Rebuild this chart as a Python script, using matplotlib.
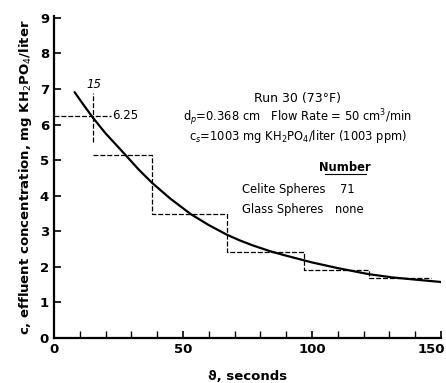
import numpy as np
import matplotlib
matplotlib.use("Agg")
import matplotlib.pyplot as plt
import matplotlib.transforms as mtransforms

# step (measured) values, dashed histogram
step_edges = [15, 38, 67, 97, 122, 146]
step_vals = [5.15, 3.47, 2.42, 1.92, 1.68]

# smooth fitted curve
curve_t = [8, 11, 15, 20, 27, 33, 38, 45, 53, 60, 67, 72, 77, 84, 90, 100, 110, 122, 131, 141, 150]
curve_c = [6.91, 6.6, 6.2, 5.75, 5.2, 4.72, 4.36, 3.92, 3.48, 3.17, 2.9, 2.74, 2.6, 2.43, 2.31,
           2.12, 1.96, 1.79, 1.7, 1.63, 1.57]

first_t, first_c = 15, 6.25

plt.rcParams['font.family'] = ['DejaVu Sans']
fig = plt.figure(figsize=(4.46, 3.83), dpi=100)
ax = fig.add_axes([0.121, 0.118, 0.868, 0.84])

ax.plot(curve_t, curve_c, color='black', lw=1.6, solid_capstyle='round')
# dashed steps
dash = (0, (4, 1.5))
ax.step(step_edges, step_vals + [step_vals[-1]], where='post', color='black', lw=0.9, ls=dash)
ax.plot([0, 22], [first_c, first_c], color='black', lw=0.9, ls=dash)
ax.plot([first_t, first_t], [5.5, 6.9], color='black', lw=0.9, ls=dash)
ax.text(22.5, first_c, '6.25', fontsize=8.5, va='center', ha='left')
ax.text(first_t + 0.5, 6.95, '15', fontsize=8.5, va='bottom', ha='center', style='italic')

ax.set_xlim(0, 150)
ax.set_ylim(0, 9.05)
ax.set_xticks([0, 50, 100, 150])
ax.set_xticks(np.arange(10, 150, 10), minor=True)
ax.set_yticks(range(0, 10))
ax.tick_params(direction='in', length=5, width=1.2, labelsize=9.5)
ax.tick_params(which='minor', direction='in', length=5, width=1.0)
for lab in ax.get_xticklabels() + ax.get_yticklabels():
    lab.set_fontweight('bold')
# keep the last x label inside the figure
last = ax.get_xticklabels()[-1]
last.set_horizontalalignment('right')
last.set_transform(last.get_transform() + mtransforms.ScaledTranslation(4 / 100, 0, fig.dpi_scale_trans))
for s in ['top', 'right']:
    ax.spines[s].set_visible(False)
for s in ['left', 'bottom']:
    ax.spines[s].set_linewidth(1.6)

ax.set_xlabel('ϑ, seconds', fontsize=9.5, fontweight='bold', labelpad=10)
ax.set_ylabel('c, effluent concentration, mg KH$_2$PO$_4$/liter', fontsize=9.5,
              fontweight='bold', labelpad=4)

tx = dict(fontsize=8.3, va='center')
ax.text(94.4, 6.74, 'Run 30 (73°F)', ha='center', fontsize=9, va='center')
ax.text(94.4, 6.19, 'd$_p$=0.368 cm   Flow Rate = 50 cm$^3$/min', ha='center', **tx)
ax.text(94.4, 5.67, 'c$_s$=1003 mg KH$_2$PO$_4$/liter (1003 ppm)', ha='center', **tx)
ax.text(112.8, 4.8, 'Number', ha='center', fontweight='bold', fontsize=8.3, va='center')
ax.plot([105, 121], [4.62, 4.62], color='black', lw=0.8)
ax.text(72.7, 4.16, 'Celite Spheres', ha='left', **tx)
ax.text(111, 4.16, '71', ha='left', **tx)
ax.text(72.7, 3.6, 'Glass Spheres', ha='left', **tx)
ax.text(109, 3.6, 'none', ha='left', **tx)

fig.savefig('out.png', dpi=100)
